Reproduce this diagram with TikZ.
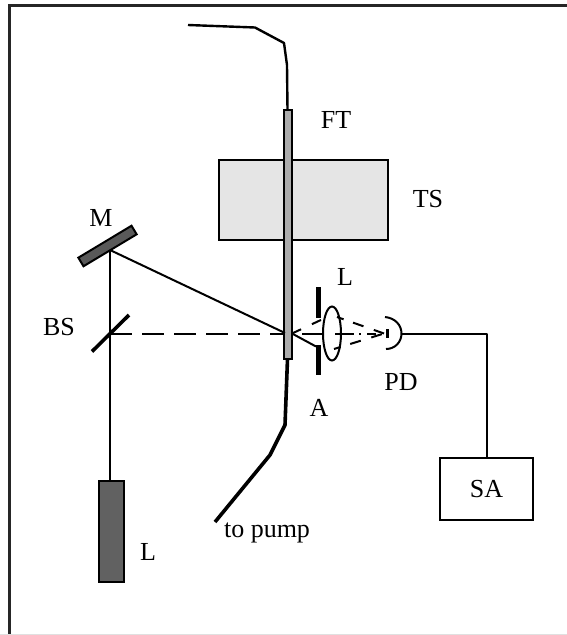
\documentclass[tikz,border=0pt]{standalone}
\usepackage{fontspec}
\setmainfont{Liberation Serif}
\usetikzlibrary{calc}
\tikzset{
 lbl/.style={inner sep=0pt,font=\fontsize{26}{26}\selectfont},
 wire/.style={line width=2pt,line join=round},
 fibre/.style={line width=2.4pt,line join=round},
 thickfibre/.style={line width=3.6pt,line join=round},
 box/.style={draw=black,line width=2pt,inner sep=0pt,outer sep=0pt,rectangle},
 dashbeam/.style={line width=2pt,dash pattern=on 22pt off 10pt},
 rayin/.style={line width=2pt,dash pattern=on 10pt off 12pt on 10pt off 20pt},
 rayout/.style={line width=2pt,dash pattern=on 7pt off 10pt on 11pt off 11pt on 11pt off 20pt},
 axisray/.style={line width=2pt,dash pattern=on 21pt off 12pt on 19pt off 5pt on 2pt off 6pt on 9pt off 20pt},
}
\begin{document}
\begin{tikzpicture}[x=1pt,y=-1pt]
\useasboundingbox (0,0) rectangle (567,635);
\fill[white] (0,0) rectangle (567,635);
\draw[line width=2.2pt,color=black!85] (9.5,636) -- (9.5,5.5) -- (568,5.5);
\draw[line width=.6pt,color=black!12] (0,634.5) -- (567,634.5);
% coordinates
\coordinate (f0) at (188,25);
\coordinate (f1) at (255,27.5);
\coordinate (f2) at (284,43);
\coordinate (f3) at (287,65);
\coordinate (g1) at (285,425);
\coordinate (g2) at (270,455);
\coordinate (g3) at (215,522);
\coordinate (mp) at (110,250);
\coordinate (bsp) at (110,334);
\coordinate (hit) at (285,333);
\coordinate (beamend) at (283,334);
\coordinate (rayo) at (292,333.5);
\coordinate (axs) at (302,334);
\coordinate (axe) at (384,334);
\coordinate (lu) at (323,319);
\coordinate (ll) at (316,346.5);
\coordinate (ru) at (337,317);
\coordinate (rl) at (334,349);
\coordinate (foc) at (384,333.5);
\coordinate (pdt) at (385,317);
\coordinate (pdb) at (386,349);
\coordinate (pdr) at (401.5,333.5);
\coordinate (cor) at (487,333.5);
% TS
\node[box,fill=black!10,minimum width=169pt,minimum height=80pt] (ts) at (303.5,200) {};
% fibre
\node[box,fill=black!33,minimum width=8pt,minimum height=249pt] (ft) at (287.5,234.5) {};
\draw[fibre] (f0) -- (f1) -- (f2) -- (f3) -- (ft.north);
\draw[thickfibre] (ft.south) -- (g1) -- (g2) -- (g3);
% mirror, beam splitter, laser
\node[box,fill=black!65,minimum width=62pt,minimum height=10pt,rotate=31] (m) at (107.5,246) {};
\node[box,fill=black!62,minimum width=25pt,minimum height=101pt] (las) at (111.5,531.5) {};
\coordinate (bs1) at (92,351.5);
\coordinate (bs2) at (129,315);
\draw[line width=3.6pt] (bs1) -- (bs2);
% beams
\draw[wire] (las.north -| mp) -- (mp);
\draw[wire] (mp) -- (hit);
\draw[dashbeam] (bsp) -- (beamend);
\draw[axisray] (axs) -- (axe);
\draw[rayin] (rayo) -- (lu);
\draw[wire] (rayo) -- (ll);
\draw[rayout] (ru) -- (foc);
\draw[rayout] (rl) -- (foc);
% aperture
\coordinate (a1) at (318.5,287);
\coordinate (a2) at (318.5,318);
\coordinate (a3) at (318.5,345);
\coordinate (a4) at (318.5,375);
\draw[line width=4.5pt] (a1) -- (a2);
\draw[line width=4.5pt] (a3) -- (a4);
% lens
\draw[line width=2pt] (332,333.5) ellipse [x radius=9,y radius=27];
% detector
\draw[line width=3.5pt] (387.5,329) -- (387.5,338);
\draw[line width=2pt] (pdt) .. controls (395,318) and (401.5,325) .. (pdr) .. controls (401.5,342) and (395,349) .. (pdb);
\node[box,minimum width=93pt,minimum height=62pt] (sa) at (486.5,489) {};
\draw[wire] (pdr) -- (cor) -- (sa.north -| cor);
% labels
\node[lbl] (lft) at (336,120) {FT};
\node[lbl] (lts) at (428,199) {TS};
\node[lbl] (lm) at (101,218) {M};
\node[lbl] (ll1) at (345,277) {L};
\node[lbl] (lbs) at (59,327) {BS};
\node[lbl] (lpd) at (401,382) {PD};
\node[lbl] (la) at (319,408) {A};
\node[lbl] (ll2) at (148,552) {L};
\node[lbl] at (sa.center) {SA};
\node[lbl] (lp) at (267,533) {to pump};
\end{tikzpicture}
\end{document}
